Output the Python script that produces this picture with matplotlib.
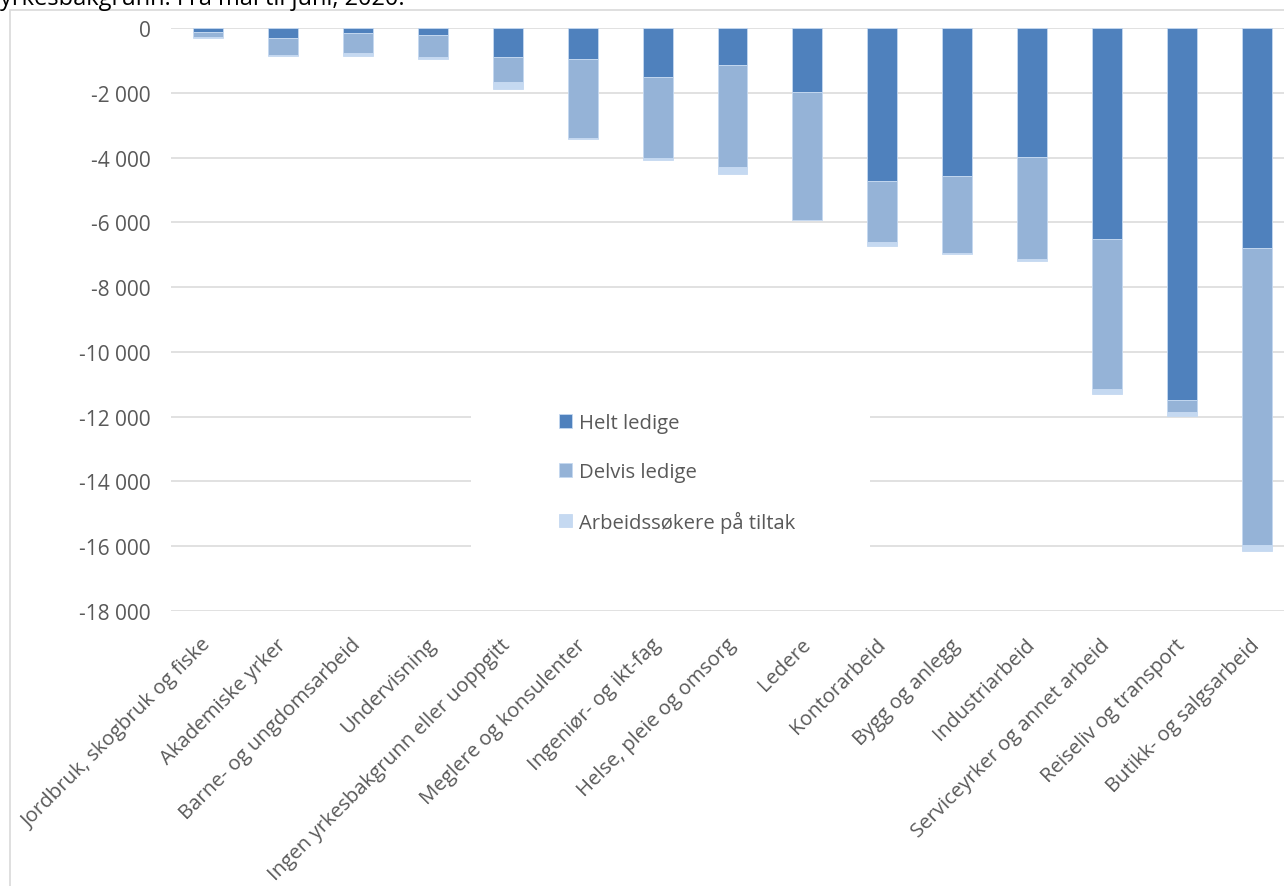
import numpy as np
import matplotlib
matplotlib.use("Agg")
import matplotlib.pyplot as plt
from matplotlib.patches import Rectangle

# data (negative = decline)
categories = ["Jordbruk, skogbruk og fiske", "Akademiske yrker", "Barne- og ungdomsarbeid",
              "Undervisning", "Ingen yrkesbakgrunn eller uoppgitt", "Meglere og konsulenter",
              "Ingeniør- og ikt-fag", "Helse, pleie og omsorg", "Ledere", "Kontorarbeid",
              "Bygg og anlegg", "Industriarbeid", "Serviceyrker og annet arbeid",
              "Reiseliv og transport", "Butikk- og salgsarbeid"]
helt = [-120, -310, -145, -225, -895, -955, -1520, -1140, -1975, -4720, -4570, -3980, -6500, -11480, -6790]
delvis = [-160, -520, -625, -680, -770, -2440, -2500, -3150, -3940, -1885, -2375, -3140, -4640, -370, -9170]
tiltak = [-40, -20, -80, -40, -225, -30, -65, -225, -20, -115, -30, -60, -160, -115, -200]
series_names = ["Helt ledige", "Delvis ledige", "Arbeidssøkere på tiltak"]
title = "yrkesbakgrunn. Fra mai til juni, 2020."

colors = ["#4f81bd", "#95b3d7", "#c5d9f1"]
grey = "#595959"
plt.rcParams["font.family"] = ["Open Sans", "DejaVu Sans"]

W, H = 1284, 887
fig = plt.figure(figsize=(W / 100, H / 100), dpi=100)

def fx(px):
    return px / W

def fy(py):
    return 1 - py / H

# outer chart border (cropped in the reference)
fig.patches.append(Rectangle((fx(9.5), fy(H + 20)), fx(W + 50), fy(11) - fy(H + 20),
                             transform=fig.transFigure, fill=False, ec="#d9d9d9", lw=1.2))
# title is cut off at the top edge in the reference too
fig.text(fx(0), fy(5), title, fontsize=17, color="black", va="baseline", ha="left")

left, right, top, bottom = 170.5, 1294.5, 29, 612
ax = fig.add_axes([fx(left), fy(bottom), fx(right - left), fy(top) - fy(bottom)])

x = np.arange(len(categories))
h = np.array(helt)
d = np.array(delvis)
t = np.array(tiltak)
bw = 0.4
ec = "#c5d9f1"
ax.bar(x, h, bw, color=colors[0], label=series_names[0], zorder=3, edgecolor=ec, linewidth=0.6)
ax.bar(x, d, bw, bottom=h, color=colors[1], label=series_names[1], zorder=3, edgecolor=ec, linewidth=0.6)
ax.bar(x, t, bw, bottom=h + d, color=colors[2], label=series_names[2], zorder=3, edgecolor=ec, linewidth=0.6)

ax.set_xlim(-0.5, len(categories) - 0.5)
ax.set_ylim(-18000, 0)
ax.set_yticks(np.arange(-18000, 1, 2000))
ax.set_yticklabels([f"{v:,}".replace(",", " ") for v in range(-18000, 1, 2000)])
ax.yaxis.grid(True, color="#d9d9d9", lw=1.1, zorder=0)
ax.set_axisbelow(True)
for s in ax.spines.values():
    s.set_visible(False)
ax.tick_params(axis="y", length=0, pad=14, labelsize=15, labelcolor=grey)
ax.tick_params(axis="x", length=0, pad=22, labelsize=14.7, labelcolor=grey)
ax.set_xticks(x)
ax.set_xticklabels(categories, rotation=45, ha="right", va="center", rotation_mode="anchor")

# white box behind the legend hiding gridlines
ax.add_patch(Rectangle((fx(471), fy(575)), fx(870 - 471), fy(372) - fy(575),
                       transform=fig.transFigure, facecolor="white", edgecolor="none", zorder=1))
leg = ax.legend(loc="upper left", bbox_to_anchor=(fx(549), fy(404)), bbox_transform=fig.transFigure,
                frameon=False, fontsize=14.6, labelcolor=grey, handlelength=0.65, handleheight=0.65,
                handletextpad=0.35, labelspacing=1.42, borderpad=0)

fig.savefig("out.png", dpi=100)
